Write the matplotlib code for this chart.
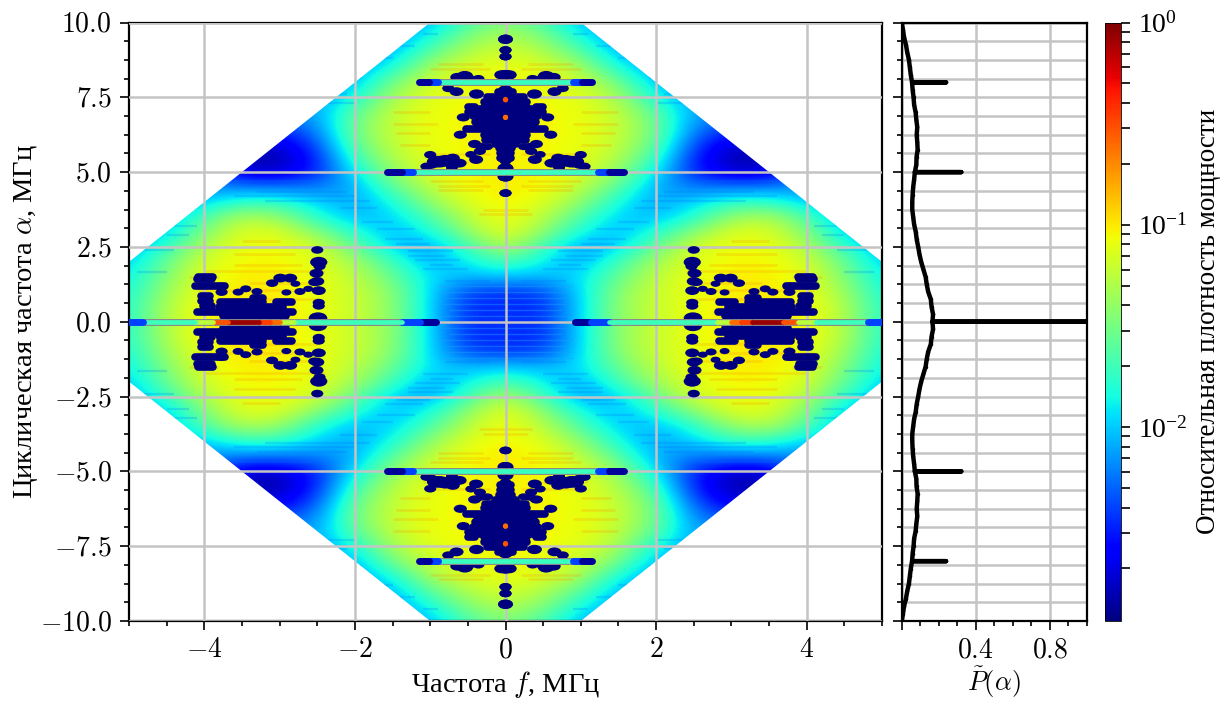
import numpy as np
import matplotlib
matplotlib.use("Agg")
import matplotlib.pyplot as plt
from matplotlib.colors import LogNorm
from matplotlib.markers import MarkerStyle
from matplotlib.patches import Polygon
from matplotlib.ticker import MultipleLocator
from matplotlib.transforms import Affine2D

plt.rcParams['font.family'] = ['Liberation Serif', 'DejaVu Serif']
plt.rcParams['mathtext.fontset'] = 'cm'

# log10 of the density, one quadrant: rows alpha = 0, 0.5 .. 10, columns f = 0, 0.5 .. 5
density_log = [
    [-2.40, -2.50, -1.95, -1.40, -1.20, -1.08, -1.02, -0.98, -1.04, -1.28, -1.80],
    [-2.45, -2.50, -1.95, -1.40, -1.20, -1.08, -1.02, -0.98, -1.04, -1.28, -1.80],
    [-2.45, -2.40, -1.95, -1.42, -1.20, -1.08, -1.02, -1.00, -1.08, -1.35, -1.85],
    [-2.00, -2.05, -1.95, -1.55, -1.24, -1.08, -1.02, -1.02, -1.10, -1.45, -1.90],
    [-1.65, -1.90, -2.08, -1.70, -1.33, -1.12, -1.04, -1.04, -1.16, -1.55, -2.00],
    [-1.25, -1.70, -2.12, -1.98, -1.55, -1.16, -1.08, -1.08, -1.28, -1.75, -2.08],
    [-1.08, -1.40, -1.85, -2.05, -1.80, -1.45, -1.12, -1.12, -1.45, -1.98, -2.12],
    [-1.04, -1.25, -1.65, -1.98, -2.05, -1.80, -1.40, -1.30, -1.65, -2.10, -2.12],
    [-1.02, -1.12, -1.40, -1.85, -2.10, -1.98, -1.75, -1.75, -1.98, -2.12, -2.12],
    [-1.00, -1.06, -1.24, -1.60, -2.10, -2.22, -2.25, -2.22, -2.18, -2.12, -2.12],
    [-1.02, -1.04, -1.12, -1.40, -1.90, -2.50, -2.75, -2.75, -2.20, -2.12, -2.12],
    [-1.02, -1.04, -1.10, -1.28, -1.70, -2.50, -2.85, -2.85, -2.20, -2.12, -2.12],
    [-1.02, -1.04, -1.08, -1.22, -1.55, -2.35, -2.70, -2.70, -2.20, -2.12, -2.12],
    [-1.02, -1.04, -1.08, -1.20, -1.50, -2.20, -2.40, -2.40, -2.12, -2.12, -2.12],
    [-1.02, -1.04, -1.08, -1.22, -1.60, -2.12, -2.15, -2.15, -2.12, -2.12, -2.12],
    [-1.04, -1.06, -1.12, -1.32, -1.85, -2.12, -2.12, -2.12, -2.12, -2.12, -2.12],
    [-1.06, -1.08, -1.18, -1.50, -2.05, -2.12, -2.12, -2.12, -2.12, -2.12, -2.12],
    [-1.08, -1.14, -1.32, -1.85, -2.12, -2.12, -2.12, -2.12, -2.12, -2.12, -2.12],
    [-1.15, -1.28, -1.60, -2.05, -2.12, -2.12, -2.12, -2.12, -2.12, -2.12, -2.12],
    [-1.28, -1.45, -1.85, -2.12, -2.12, -2.12, -2.12, -2.12, -2.12, -2.12, -2.12],
    [-1.45, -1.65, -2.05, -2.12, -2.12, -2.12, -2.12, -2.12, -2.12, -2.12, -2.12],
]

# support outline of the map
outline_f = [-5, -1, 1, 5, 5, 1, -1, -5]
outline_a = [2, 10, 10, 2, -2, -10, -10, -2]

# horizontal streaks of the map: alpha, then f range (mirrored)
warm_a = [8.6, 8.45, 5.6, 5.35, 4.7, 4.55, 4.4, 7.0, 6.6, 6.3, 5.9, 3.6, 3.75, 1.9, 1.7, 1.3, 1.05, 0.75, 2.25, 2.5, 2.7, 1.5]
warm_x0 = [0.3, 0.2, 0.2, 0.5, 0.3, 0.2, 0.3, 1.0, 0.9, 1.0, 1.0, 0.0, 0.0, 2.7, 2.4, 2.6, 2.4, 2.5, 2.8, 2.6, 3.0, 3.8]
warm_x1 = [0.9, 1.0, 1.0, 1.1, 1.0, 0.9, 0.9, 1.5, 1.5, 1.45, 1.4, 0.35, 0.3, 3.6, 4.0, 3.4, 4.1, 3.2, 3.6, 3.5, 3.5, 4.2]

cool_a = [1.35, 1.75, 1.9, 2.05, 2.2, 2.35, 2.6, 2.75, 3.1, 3.35, 4.05, 4.2, 4.35, 4.55, 4.7, 3.8,
          7.3, 7.6, 7.85, 8.15, 8.4, 8.8, 9.2, 9.6, 2.4, 2.9, 3.2, 1.65]
cool_x0 = [0.2, 0.5, 0.7, 0.6, 0.8, 0.7, 1.0, 1.1, 1.2, 1.5, 1.8, 2.0, 2.1, 2.4, 2.6, 1.7,
           2.0, 2.1, 2.1, 1.9, 1.8, 1.5, 1.2, 0.9, 4.4, 4.2, 4.1, 4.5]
cool_x1 = [0.8, 1.1, 1.0, 1.2, 1.3, 1.3, 1.45, 1.6, 1.7, 1.9, 3.2, 3.6, 3.3, 3.7, 3.6, 2.2,
           2.7, 2.6, 2.4, 2.3, 2.1, 1.9, 1.4, 1.1, 4.9, 4.5, 4.4, 4.9]

pale_a = [0.2, 0.4, 0.6, 0.8, 1.0, 1.2]
pale_x0 = [0.0, 0.0, 0.0, 0.0, 0.0, 0.0]
pale_x1 = [0.85, 0.75, 0.9, 0.8, 0.85, 0.9]

# thick horizontal pieces: start, end, level
line0_start = [0.92, 1.14, 1.37, 2.81, 3.00, 3.13, 3.28, 3.68, 3.88, 4.13, 4.81]
line0_end = [1.14, 1.37, 2.81, 3.00, 3.13, 3.28, 3.68, 3.88, 4.13, 4.81, 5.00]
line0_val = [0.0013, 0.004, 0.02, 0.055, 0.25, 0.35, 0.85, 0.3, 0.055, 0.02, 0.004]

line5_start = [0.0, 1.23, 1.38]
line5_end = [1.23, 1.38, 1.58]
line5_val = [0.019, 0.004, 0.0013]

line8_start = [0.0, 0.90, 1.01]
line8_end = [0.90, 1.01, 1.15]
line8_val = [0.019, 0.004, 0.0013]

# low-density spots, top lobe, right half (mirrored to the other three places)
top_f = [0.00, 0.00, 0.00, 0.00, 0.00, 0.00, 0.00, 0.00, 0.00,
         0.36, 0.54, 0.64, 0.50, 0.385, 0.65, 0.76,
         0.56, 0.60, 0.41, 0.32, 0.24, 0.34,
         1.00, 0.87, 0.80, 0.92, 0.70, 0.61, 0.71, 0.46, 0.39, 1.05, 0.98, 0.72, 0.05]
top_a = [9.44, 9.08, 8.86, 8.25, 7.75, 5.38, 5.13, 4.85, 4.30,
         8.12, 8.21, 8.17, 8.13, 7.61, 7.69, 7.80,
         6.83, 6.25, 5.94, 5.85, 5.85, 5.70,
         5.58, 5.35, 5.38, 5.35, 5.47, 5.30, 5.17, 5.59, 5.42, 5.19, 5.24, 5.07, 8.25]
top_size = [45, 30, 30, 50, 40, 30, 50, 50, 30,
            30, 55, 40, 40, 45, 40, 30,
            35, 35, 35, 30, 25, 30,
            30, 70, 70, 70, 40, 40, 30, 25, 40, 30, 30, 25, 45]

# solid parts of the top cluster: alpha, f range
top_row_a = [7.69, 7.52, 7.36, 7.19, 7.19, 7.10, 7.02, 6.86, 6.69, 6.52, 6.43, 6.24, 6.08, 5.94, 5.80, 5.63, 5.46]
top_row_x0 = [0.00, 0.05, 0.00, 0.00, 0.40, 0.00, 0.00, 0.03, 0.00, 0.00, 0.00, 0.00, 0.00, 0.00, 0.00, 0.00, 0.00]
top_row_x1 = [0.10, 0.25, 0.28, 0.28, 0.50, 0.46, 0.50, 0.43, 0.40, 0.38, 0.52, 0.28, 0.27, 0.14, 0.08, 0.07, 0.07]

# low-density spots, left lobe, upper half
side_f = [-2.50, -2.48, -2.51, -2.50, -2.48, -2.48, -2.48, -2.49, -2.47, -2.54,
          -3.55, -3.45, -3.30, -3.10, -2.99, -2.86, -2.79, -2.91, -2.73, -2.62, -3.78, -3.77]
side_a = [2.40, 1.99, 1.62, 1.35, 1.04, 0.64, 0.53, 0.12, 1.85, 1.32,
          0.99, 1.10, 1.01, 1.29, 1.46, 1.46, 1.27, 0.98, 1.01, 1.10, 1.18, 0.99]
side_size = [30, 60, 40, 40, 40, 30, 30, 70, 30, 30,
             25, 25, 25, 30, 40, 40, 20, 20, 25, 20, 30, 30]

side_row_a = [1.50, 1.42, 1.18, 0.85, 0.68, 0.51, 0.34, 0.79, 0.65, 0.65, 0.49, 0.33, 0.20]
side_row_x0 = [-4.08, -4.10, -4.12, -4.04, -4.04, -4.02, -4.10, -3.35, -3.79, -3.05, -3.81, -3.79, -3.75]
side_row_x1 = [-3.88, -3.90, -3.72, -3.92, -3.92, -3.90, -3.82, -3.22, -3.22, -2.84, -2.95, -2.82, -2.91]

# bright pin-holes inside the top mass
peak_f = [0.0, 0.0]
peak_a = [7.42, 6.83]
peak_val = [0.3, 0.25]

# right panel: alpha >= 0, mirrored below
profile_a = [10.0, 9.75, 9.5, 9.25, 9.0, 8.75, 8.5, 8.25, 8.0, 8.0, 8.0, 7.75, 7.5, 7.25, 7.0, 6.75, 6.5,
             6.25, 6.0, 5.75, 5.5, 5.25, 5.0, 5.0, 5.0, 4.75, 4.5, 4.25, 4.0, 3.75, 3.5, 3.25, 3.0,
             2.75, 2.5, 2.25, 2.0, 1.75, 1.5, 1.25, 1.0, 0.75, 0.5, 0.25, 0.0, 0.0]
profile_p = [0.002, 0.008, 0.014, 0.024, 0.031, 0.040, 0.045, 0.050, 0.057, 0.240, 0.057, 0.060, 0.065,
             0.068, 0.076, 0.080, 0.085, 0.082, 0.085, 0.087, 0.081, 0.080, 0.072, 0.322, 0.072, 0.068,
             0.063, 0.060, 0.058, 0.058, 0.063, 0.068, 0.077, 0.082, 0.090, 0.097, 0.106, 0.118, 0.130,
             0.136, 0.144, 0.158, 0.162, 0.170, 0.167, 1.000]

f_ticks = [-4, -2, 0, 2, 4]
f_labels = ['$-4$', '$-2$', '$0$', '$2$', '$4$']
a_ticks = [-10, -7.5, -5, -2.5, 0, 2.5, 5, 7.5, 10]
a_labels = ['$-10.0$', '$-7.5$', '$-5.0$', '$-2.5$', '$0.0$', '$2.5$', '$5.0$', '$7.5$', '$10.0$']
p_ticks = [0, 0.4, 0.8]
p_labels = ['', '$0.4$', '$0.8$']

W, H = 1222, 702


def box(x0, y0, x1, y1):
    return [x0 / W, 1 - y1 / H, (x1 - x0) / W, (y1 - y0) / H]


def style_axis(ax):
    for s in ax.spines.values():
        s.set_linewidth(1.6)
    ax.tick_params(which='major', length=6.5, width=1.2, labelsize=20, pad=6)
    ax.tick_params(which='minor', length=3.5, width=1.2)


norm = LogNorm(vmin=1.1e-3, vmax=1)
cmap = 'jet'

fig = plt.figure(figsize=(W / 100, H / 100), dpi=100)
ax = fig.add_axes(box(129, 22.5, 882, 621))
ax2 = fig.add_axes(box(901.5, 22.5, 1087, 621))
cax = fig.add_axes(box(1105, 22.5, 1121, 621))

quad = np.array(density_log)
half = np.hstack([quad[:, :0:-1], quad])
full = np.vstack([half[:0:-1], half])
im = ax.imshow(full, origin='lower', extent=[-5.25, 5.25, -10.25, 10.25], aspect='auto',
               cmap=cmap, vmin=np.log10(norm.vmin), vmax=0, interpolation='bicubic', zorder=0)
clip = Polygon(np.column_stack([outline_f, outline_a]), closed=True, transform=ax.transData)
im.set_clip_path(clip)

ax.set_xlim(-5, 5)
ax.set_ylim(-10, 10)
ax.grid(True, color='#c4c4c4', lw=1.8, zorder=2)
ax.set_axisbelow(False)


def streaks(y, x0, x1, color, opacity, width):
    for sx in (-1, 1):
        for sy in (-1, 1):
            lc = ax.hlines(sy * np.array(y), sx * np.array(x0), sx * np.array(x1), color=color,
                           alpha=opacity, linewidth=width, zorder=1)
            lc.set_clip_path(clip)


streaks(warm_a, warm_x0, warm_x1, '#ff9000', 0.22, 2.0)
streaks(cool_a, cool_x0, cool_x1, '#0070ff', 0.22, 1.6)
streaks(pale_a, pale_x0, pale_x1, '#20a0ff', 0.4, 1.0)

spot = MarkerStyle('o', transform=Affine2D().scale(1.6, 1.0))
navy = '#00007f'
for sx in (-1, 1):
    for sy in (-1, 1):
        ax.hlines(sy * np.array(top_row_a), sx * np.array(top_row_x0), sx * np.array(top_row_x1), color=navy,
                  linewidth=5.5, capstyle='round', zorder=3)
        ax.hlines(sy * np.array(side_row_a), sx * np.array(side_row_x0), sx * np.array(side_row_x1), color=navy,
                  linewidth=5.5, capstyle='round', zorder=3)
        ax.scatter(sx * np.array(top_f), sy * np.array(top_a), s=top_size, marker=spot, color=navy,
                   linewidths=0, zorder=3)
        ax.scatter(sx * np.array(side_f), sy * np.array(side_a), s=side_size, marker=spot, color=navy,
                   linewidths=0, zorder=3)
        ax.scatter(sx * np.array(peak_f), sy * np.array(peak_a), s=14, c=peak_val, cmap=cmap, norm=norm,
                   linewidths=0, zorder=4)


def thick_line(y, start, end, val, side):
    ax.hlines(np.full(len(start), y), side * np.array(start), side * np.array(end), color='#8a8a8a',
              linewidth=5.0, zorder=3.4)
    widths = [5.0 if v < 0.006 else 3.4 for v in val]
    lc = ax.hlines(np.full(len(start), y), side * np.array(start), side * np.array(end), linewidth=widths,
                   capstyle='round', cmap=cmap, norm=norm, zorder=3.5)
    lc.set_array(np.array(val))


for sx in (-1, 1):
    thick_line(0, line0_start, line0_end, line0_val, sx)
    for sy in (-1, 1):
        thick_line(sy * 5, line5_start, line5_end, line5_val, sx)
        thick_line(sy * 8, line8_start, line8_end, line8_val, sx)

ax.set_xticks(f_ticks, f_labels)
ax.set_yticks(a_ticks, a_labels)
ax.xaxis.set_minor_locator(MultipleLocator(0.5))
ax.yaxis.set_minor_locator(MultipleLocator(0.625))
style_axis(ax)
ax.set_xlabel('Частота $f$, МГц', fontsize=20.5, labelpad=4)
ax.set_ylabel('Циклическая частота $\\alpha$, МГц', fontsize=20.5, labelpad=0)

pa = np.array(profile_a)
pp = np.array(profile_p)
ax2.plot(np.r_[pp, pp[::-1]], np.r_[pa, -pa[::-1]], color='k', lw=3.2, marker='o', ms=2.5, mew=0, zorder=3,
         solid_capstyle='round', solid_joinstyle='round')
ax2.set_xlim(0, 1)
ax2.set_ylim(-10, 10)
ax2.set_xticks(p_ticks, p_labels)
ax2.set_yticks(a_ticks, [''] * len(a_ticks))
ax2.xaxis.set_minor_locator(MultipleLocator(0.1))
ax2.yaxis.set_minor_locator(MultipleLocator(0.625))
ax2.grid(True, axis='x', which='major', color='#c4c4c4', lw=1.8)
ax2.grid(True, axis='y', which='both', color='#c4c4c4', lw=1.8)
ax2.set_axisbelow(True)
style_axis(ax2)
ax2.set_xlabel('$\\tilde{P}(\\alpha)$', fontsize=19, labelpad=1)

sm = plt.cm.ScalarMappable(norm=norm, cmap=cmap)
cb = fig.colorbar(sm, cax=cax)
cb.outline.set_linewidth(0.6)
cax.tick_params(which='major', length=6.5, width=1.2, labelsize=20, pad=6)
cax.tick_params(which='minor', length=6.5, width=1.2)
cb.set_label('Относительная плотность мощности', fontsize=19.5, labelpad=6)

fig.savefig('out.png', dpi=100)
